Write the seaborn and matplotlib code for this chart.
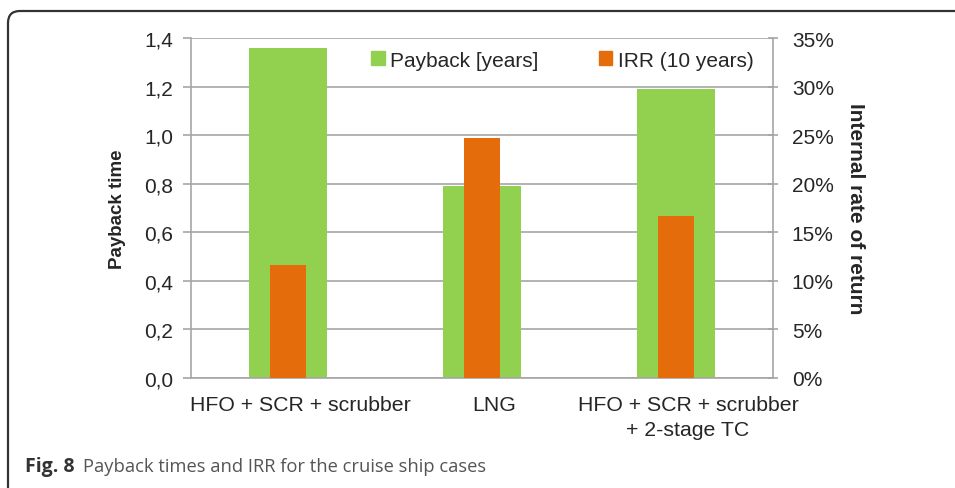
import pandas as pd
import matplotlib.pyplot as plt
import seaborn as sns
import matplotlib.ticker as ticker
from matplotlib.patches import FancyBboxPatch, Patch
from matplotlib.transforms import IdentityTransform, ScaledTranslation

# values
cases = ['HFO + SCR + scrubber', 'LNG', 'HFO + SCR + scrubber\n+ 2-stage TC']
payback = [1.36, 0.79, 1.19]       # years
irr = [11.6, 24.7, 16.7]           # percent, 10 years
left_ticks = [0.0, 0.2, 0.4, 0.6, 0.8, 1.0, 1.2, 1.4]
right_ticks = [0, 5, 10, 15, 20, 25, 30, 35]

green = '#92D050'
orange = '#E46C0A'
grey = '#A6A6A6'

df = pd.DataFrame({'case': cases, 'payback': payback, 'irr': irr})

sns.set_style('white')
plt.rcParams['font.family'] = ['Liberation Sans', 'DejaVu Sans']

fig = plt.figure(figsize=(9.55, 4.89), dpi=100)
ax = fig.add_axes([191 / 955, 110 / 489, 582 / 955, 340 / 489])
ax2 = ax.twinx()

sns.barplot(data=df, x='case', y='payback', color=green, width=0.40,
            saturation=1, linewidth=0, ax=ax, zorder=2)
sns.barplot(data=df, x='case', y='irr', color=orange, width=0.185,
            saturation=1, linewidth=0, ax=ax2, zorder=3)

ax.set_ylim(0, 1.4)
ax2.set_ylim(0, 35)
ax.set_xlim(-0.5, 2.5)
ax.set_yticks(left_ticks)
ax.yaxis.set_major_formatter(ticker.FuncFormatter(lambda v, p: f'{v:.1f}'.replace('.', ',')))
ax2.set_yticks(right_ticks)
ax2.yaxis.set_major_formatter(ticker.FuncFormatter(lambda v, p: f'{v:.0f}%'))

# gridlines behind bars
ax.grid(axis='y', color=grey, linewidth=1.2)
ax.set_axisbelow(True)
ax2.grid(False)

# category boundaries as ticks, labels at centres
ax.set_xticks([-0.5, 0.5, 1.5, 2.5])
ax.set_xticklabels([])
ax.set_xticks([0, 1, 2], minor=True)
ax.set_xticklabels(cases, minor=True, fontsize=15.3, linespacing=1.45)
ax.tick_params(axis='x', which='major', length=6, color=grey, width=1.2)
ax.tick_params(axis='x', which='minor', length=0, pad=12)
ax.tick_params(axis='y', length=6, color=grey, width=1.2, labelsize=15, pad=7)
ax2.tick_params(axis='y', length=7, color=grey, width=1.2, labelsize=15,
                direction='inout', pad=10)
# the reference places the category labels a little right of centre
shift = ScaledTranslation(12 / 100, 0, fig.dpi_scale_trans)
for lab in ax.get_xticklabels(minor=True):
    lab.set_transform(lab.get_transform() + shift)

for a in (ax, ax2):
    for s in a.spines.values():
        s.set_visible(False)
ax.spines['left'].set_visible(True)
ax.spines['bottom'].set_visible(True)
ax2.spines['right'].set_visible(True)
for s in (ax.spines['left'], ax.spines['bottom'], ax2.spines['right']):
    s.set_color(grey)
    s.set_linewidth(1.2)

ax.set_xlabel('')
ax.set_ylabel('Payback time', fontsize=13.5, fontweight='bold')
ax2.set_ylabel('Internal rate of return', fontsize=15, fontweight='bold', rotation=270)
ax.yaxis.set_label_coords((118 - 191) / 582, 0.5)
ax2.yaxis.set_label_coords((855 - 191) / 582, 0.5)
for lab in (ax.yaxis.label, ax2.yaxis.label):
    lab.set_ha('center')
    lab.set_va('center')

handles = [Patch(color=green, label='Payback [years]'),
           Patch(color=orange, label='IRR (10 years)')]
ax.legend(handles=handles, loc='center', bbox_to_anchor=((562 - 191) / 582, (379 - 61) / 340),
          ncol=2, frameon=False, fontsize=15, handlelength=0.67, handleheight=0.67,
          handletextpad=0.25, columnspacing=2.9, borderpad=0, borderaxespad=0)

# rounded frame around the figure and caption
frame = FancyBboxPatch((8, -30), 1000, 507, boxstyle='round,pad=0,rounding_size=12',
                       transform=IdentityTransform(), facecolor='none',
                       edgecolor='#333333', linewidth=1.6)
fig.patches.append(frame)
fig.text(25 / 955, 1 - 472 / 489, 'Fig. 8', fontsize=14, fontweight='bold',
         color='#333333', family=['Open Sans', 'DejaVu Sans'], va='baseline')
fig.text(83 / 955, 1 - 472 / 489, 'Payback times and IRR for the cruise ship cases',
         fontsize=13.2, color='#555555', family=['Open Sans', 'DejaVu Sans'],
         va='baseline')

fig.savefig('out.png', dpi=100)
